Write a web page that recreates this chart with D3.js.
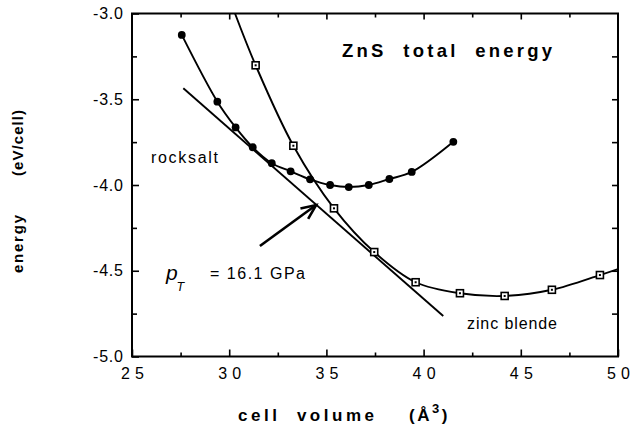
<!DOCTYPE html>
<html><head><meta charset="utf-8">
<script src="https://cdn.jsdelivr.net/npm/d3@7"></script>
<style>
body{margin:0;background:#fff}
svg{display:block}
text{font-family:"Liberation Sans",Arial,Helvetica,sans-serif;fill:#000;white-space:pre}
</style>
</head><body>
<svg id="c" width="631" height="427"></svg>
<script>
// ---- data ----
const xMajorTicks = [25, 30, 35, 40, 45, 50];
const xTickLabels = ["25", "30", "35", "40", "45", "50"];
const xMinorTicks = [27.5, 32.5, 37.5, 42.5, 47.5];
const yMajorTicks = [-5, -4.5, -4, -3.5, -3];
const yTickLabels = ["-5.0", "-4.5", "-4.0", "-3.5", "-3.0"];
const yMinorTicks = [-4.75, -4.25, -3.75, -3.25];

const rocksaltVolume = [27.56, 29.39, 30.33, 31.21, 32.19, 33.16, 34.16, 35.19, 36.15, 37.18, 38.24, 39.39, 41.53];
const rocksaltEnergy = [-3.125, -3.514, -3.664, -3.780, -3.873, -3.920, -3.967, -4.000, -4.012, -4.000, -3.965, -3.924, -3.748];

const zincVolume = [31.36, 33.30, 35.39, 37.46, 39.59, 41.87, 44.17, 46.60, 49.07];
const zincEnergy = [-3.302, -3.771, -4.136, -4.391, -4.567, -4.631, -4.647, -4.611, -4.525];
// ends of the fitted zinc-blende curve beyond the data points
const zincFitStart = [30.30, -3.0];
const zincFitEnd = [50.0, -4.49];

// common tangent line
const tangentVolume = [27.64, 41.01];
const tangentEnergy = [-3.436, -4.764];
// arrow pointing at the tangent
const arrowVolume = [31.58, 34.47];
const arrowEnergy = [-4.356, -4.117];

// ---- chart ----
const svg = d3.select("#c");
const x = d3.scaleLinear().domain([25, 50]).range([132, 618]);
const y = d3.scaleLinear().domain([-5, -3]).range([356.5, 13.5]);

svg.append("defs").append("clipPath").attr("id", "clip")
  .append("rect").attr("x", x(25)).attr("y", y(-3))
  .attr("width", x(50) - x(25)).attr("height", y(-5) - y(-3));

function styleAxis(g) {
  g.select(".domain").remove();
  g.selectAll(".tick line").attr("stroke", "#000").attr("stroke-width", 1.6);
}

// bottom axis (major with labels)
svg.append("g").attr("transform", `translate(0,${y(-5)})`)
  .call(d3.axisBottom(x).tickValues(xMajorTicks).tickSize(-7).tickPadding(11)
    .tickFormat((d, i) => xTickLabels[i]))
  .call(styleAxis)
  .call(g => g.selectAll("text").attr("font-size", 16)
    .attr("font-family", '"Liberation Sans",Arial,sans-serif')
    .attr("textLength", 23).attr("lengthAdjust", "spacing"));
svg.append("g").attr("transform", `translate(0,${y(-5)})`)
  .call(d3.axisBottom(x).tickValues(xMinorTicks).tickSize(-4).tickFormat(""))
  .call(styleAxis);
// top axis
svg.append("g").attr("transform", `translate(0,${y(-3)})`)
  .call(d3.axisTop(x).tickValues(xMajorTicks.slice(1, -1)).tickSize(-6).tickFormat(""))
  .call(styleAxis);
svg.append("g").attr("transform", `translate(0,${y(-3)})`)
  .call(d3.axisTop(x).tickValues(xMinorTicks).tickSize(-4).tickFormat(""))
  .call(styleAxis);
// left axis
svg.append("g").attr("transform", `translate(${x(25)},0)`)
  .call(d3.axisLeft(y).tickValues(yMajorTicks).tickSize(-7).tickPadding(9)
    .tickFormat((d, i) => yTickLabels[i]))
  .call(styleAxis)
  .call(g => g.selectAll("text").attr("font-size", 16)
    .attr("font-family", '"Liberation Sans",Arial,sans-serif')
    .attr("textLength", 30).attr("lengthAdjust", "spacing"));
svg.append("g").attr("transform", `translate(${x(25)},0)`)
  .call(d3.axisLeft(y).tickValues(yMinorTicks).tickSize(-5).tickFormat(""))
  .call(styleAxis);
// right axis
svg.append("g").attr("transform", `translate(${x(50)},0)`)
  .call(d3.axisRight(y).tickValues(yMajorTicks.slice(1, -1).concat(yMinorTicks)).tickSize(-6).tickFormat(""))
  .call(styleAxis);

// frame
svg.append("rect").attr("x", x(25)).attr("y", y(-3))
  .attr("width", x(50) - x(25)).attr("height", y(-5) - y(-3))
  .attr("fill", "none").attr("stroke", "#000").attr("stroke-width", 2);

const plot = svg.append("g").attr("clip-path", "url(#clip)");
const line = d3.line().x(d => x(d[0])).y(d => y(d[1])).curve(d3.curveCatmullRom.alpha(0.5));

const rocksalt = rocksaltVolume.map((v, i) => [v, rocksaltEnergy[i]]);
const zinc = zincVolume.map((v, i) => [v, zincEnergy[i]]);
const zincCurve = [zincFitStart].concat(zinc, [zincFitEnd]);

plot.append("path").datum(rocksalt).attr("d", line)
  .attr("fill", "none").attr("stroke", "#000").attr("stroke-width", 1.9);
plot.append("path").datum(zincCurve).attr("d", line)
  .attr("fill", "none").attr("stroke", "#000").attr("stroke-width", 1.9);

// tangent
plot.append("line")
  .attr("x1", x(tangentVolume[0])).attr("y1", y(tangentEnergy[0]))
  .attr("x2", x(tangentVolume[1])).attr("y2", y(tangentEnergy[1]))
  .attr("stroke", "#000").attr("stroke-width", 1.9);

// markers
plot.selectAll("circle.rs").data(rocksalt).join("circle").attr("class", "rs")
  .attr("cx", d => x(d[0])).attr("cy", d => y(d[1])).attr("r", 3.9).attr("fill", "#000");
plot.selectAll("rect.zb").data(zinc).join("rect").attr("class", "zb")
  .attr("x", d => x(d[0]) - 3.5).attr("y", d => y(d[1]) - 3.5)
  .attr("width", 7).attr("height", 7)
  .attr("fill", "#fff").attr("stroke", "#000").attr("stroke-width", 1.6);
plot.selectAll("rect.zbd").data(zinc).join("rect").attr("class", "zbd")
  .attr("x", d => x(d[0]) - 1).attr("y", d => y(d[1]) - 1)
  .attr("width", 2).attr("height", 2).attr("fill", "#000");

// arrow
const ax0 = x(arrowVolume[0]), ay0 = y(arrowEnergy[0]);
const ax1 = x(arrowVolume[1]), ay1 = y(arrowEnergy[1]);
svg.append("line").attr("x1", ax0).attr("y1", ay0).attr("x2", ax1).attr("y2", ay1)
  .attr("stroke", "#000").attr("stroke-width", 2.6);
const ang = Math.atan2(ay1 - ay0, ax1 - ax0);
const hl = 16, spread = 0.42;
const head = [
  [ax1 - hl * Math.cos(ang - spread), ay1 - hl * Math.sin(ang - spread)],
  [ax1, ay1],
  [ax1 - hl * Math.cos(ang + spread), ay1 - hl * Math.sin(ang + spread)]
];
svg.append("path").attr("d", d3.line()(head))
  .attr("fill", "none").attr("stroke", "#000").attr("stroke-width", 2.6)
  .attr("stroke-linejoin", "miter");

// texts
svg.append("text").attr("x", 342).attr("y", 57)
  .attr("font-size", 18.5).attr("font-weight", "bold")
  .attr("textLength", 210).attr("lengthAdjust", "spacing")
  .text("ZnS  total  energy");
svg.append("text").attr("x", 151).attr("y", 163)
  .attr("font-size", 16).attr("textLength", 67).attr("lengthAdjust", "spacing")
  .text("rocksalt");
svg.append("text").attr("x", 467).attr("y", 329)
  .attr("font-size", 16).attr("textLength", 90).attr("lengthAdjust", "spacing")
  .text("zinc blende");
svg.append("text").attr("x", 166).attr("y", 280)
  .attr("font-family", '"Liberation Serif","Times New Roman",serif')
  .attr("font-style", "italic").attr("font-size", 21).text("p");
svg.append("text").attr("x", 176.5).attr("y", 291)
  .attr("font-family", '"Liberation Serif","Times New Roman",serif')
  .attr("font-style", "italic").attr("font-size", 12.5).text("T");
svg.append("text").attr("x", 210).attr("y", 279)
  .attr("font-size", 16).attr("textLength", 95).attr("lengthAdjust", "spacing")
  .text("= 16.1 GPa");

// x axis title
svg.append("text").attr("x", 238).attr("y", 421)
  .attr("font-size", 17).attr("font-weight", "bold")
  .attr("textLength", 136).attr("lengthAdjust", "spacing")
  .text("cell  volume");
const xt = svg.append("text").attr("x", 409).attr("y", 421)
  .attr("font-size", 17).attr("font-weight", "bold").attr("letter-spacing", 2.5);
xt.append("tspan").text("(Å");
xt.append("tspan").attr("font-size", 13).attr("dy", -8).text("3");
xt.append("tspan").attr("dy", 8).text(")");

// y axis title
svg.append("text").attr("transform", "translate(23,273) rotate(-90)")
  .attr("font-size", 15).attr("font-weight", "bold")
  .attr("textLength", 58).attr("lengthAdjust", "spacing")
  .text("energy");
svg.append("text").attr("transform", "translate(23,176) rotate(-90)")
  .attr("font-size", 15).attr("font-weight", "bold")
  .attr("textLength", 66).attr("lengthAdjust", "spacing")
  .text("(eV/cell)");
</script>
</body></html>
